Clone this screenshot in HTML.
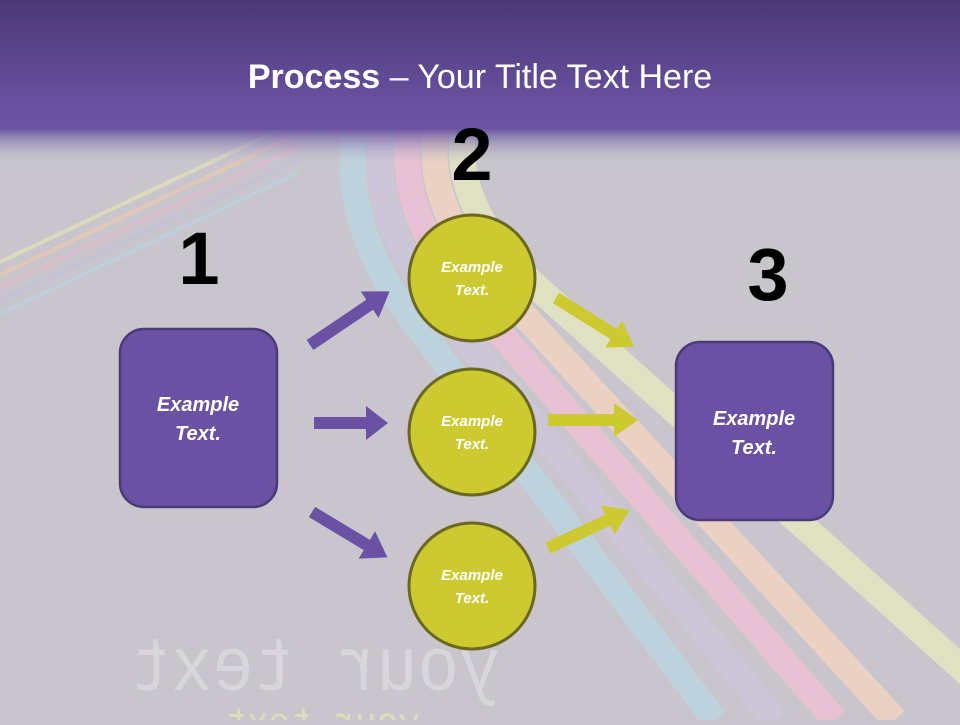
<!DOCTYPE html>
<html><head><meta charset="utf-8"><style>
body{margin:0;width:960px;height:720px;overflow:hidden;background:#c8c6cc}
</style></head><body>
<svg width="960" height="720" viewBox="0 0 960 720" xmlns="http://www.w3.org/2000/svg" font-family="Liberation Sans, sans-serif">
<defs>
<linearGradient id="hd" x1="0" y1="0" x2="0" y2="1">
<stop offset="0" stop-color="#4b3877"/><stop offset="0.7" stop-color="#6b53a3"/><stop offset="0.78" stop-color="#6b53a3"/><stop offset="1" stop-color="#c8c6cc" stop-opacity="0"/>
</linearGradient>
</defs>
<rect width="960" height="720" fill="#c8c6cc"/>
<g stroke-width="4" fill="none" opacity="0.6">
<path d="M0,262 L300,120" stroke="#e6e8b4"/>
<path d="M0,275 L300,133" stroke="#f0c8a8"/>
<path d="M0,288 L300,146" stroke="#eab8d0"/>
<path d="M0,301 L300,159" stroke="#c6bedc"/>
<path d="M0,314 L300,172" stroke="#b8d4e4"/>
</g>
<g fill="none" stroke-width="26" opacity="0.8">
<path d="M355,130 Q340,230 420,330 L715,720" stroke="#bcd6e2"/>
<path d="M382,130 Q368,225 450,320 L775,720" stroke="#cdc6dc"/>
<path d="M409,130 Q396,220 480,310 L835,720" stroke="#f0c2d6"/>
<path d="M436,130 Q424,215 510,300 L895,720" stroke="#f3d4c2"/>
<path d="M463,130 Q452,210 540,290 L975,680" stroke="#e6e8c2"/>
</g>
<rect x="0" y="0" width="960" height="165" fill="url(#hd)"/>
<text x="480" y="88" text-anchor="middle" fill="#fff" font-size="34"><tspan font-weight="bold">Process</tspan> – Your Title Text Here</text>
<g transform="translate(630,0) scale(-1,1)" fill="#e0dee4" opacity="0.7" font-family="Liberation Mono, monospace">
<text x="130" y="690" font-size="76" textLength="370" lengthAdjust="spacingAndGlyphs">your text</text>
<text x="210" y="735" font-size="40" fill="#e8e8b0" textLength="195" lengthAdjust="spacingAndGlyphs">your text</text>
</g>
<g font-weight="bold" font-size="74" text-anchor="middle" fill="#000">
<text x="199" y="284">1</text>
<text x="472" y="180">2</text>
<text x="768" y="300">3</text>
</g>
<rect x="120" y="329" width="157" height="178" rx="24" fill="#6a51a3" stroke="#4a3a7a" stroke-width="2.5"/>
<rect x="676" y="342" width="157" height="178" rx="24" fill="#6a51a3" stroke="#4a3a7a" stroke-width="2.5"/>
<g fill="#fff" font-style="italic" font-weight="bold" font-size="20" text-anchor="middle">
<text x="198" y="411">Example</text><text x="198" y="440">Text.</text>
<text x="754" y="425">Example</text><text x="754" y="454">Text.</text>
</g>
<g fill="#ccca30" stroke="#6b6820" stroke-width="3">
<ellipse cx="472" cy="278" rx="63" ry="63"/>
<ellipse cx="472" cy="432" rx="63" ry="63"/>
<ellipse cx="472" cy="586" rx="63" ry="63"/>
</g>
<g fill="#fff" font-style="italic" font-weight="bold" font-size="15" text-anchor="middle">
<text x="472" y="272">Example</text><text x="472" y="295">Text.</text>
<text x="472" y="426">Example</text><text x="472" y="449">Text.</text>
<text x="472" y="580">Example</text><text x="472" y="603">Text.</text>
</g>
<g>
<polygon points="0,-6 72,-6 72,-16 96,0 72,16 72,6 0,6" fill="#6a51a3" transform="translate(310,345) rotate(-34)"/>
<polygon points="0,-6 52,-6 52,-17 74,0 52,17 52,6 0,6" fill="#6a51a3" transform="translate(314,423)"/>
<polygon points="0,-6 64,-6 64,-16 88,0 64,16 64,6 0,6" fill="#6a51a3" transform="translate(312,512) rotate(31)"/>
<polygon points="0,-6 68,-6 68,-16 92,0 68,16 68,6 0,6" fill="#ccca30" transform="translate(556,298) rotate(32)"/>
<polygon points="0,-6 66,-6 66,-17 90,0 66,17 66,6 0,6" fill="#ccca30" transform="translate(548,420)"/>
<polygon points="0,-6 66,-6 66,-16 90,0 66,16 66,6 0,6" fill="#ccca30" transform="translate(548,548) rotate(-25)"/>
</g>
</svg>
</body></html>
